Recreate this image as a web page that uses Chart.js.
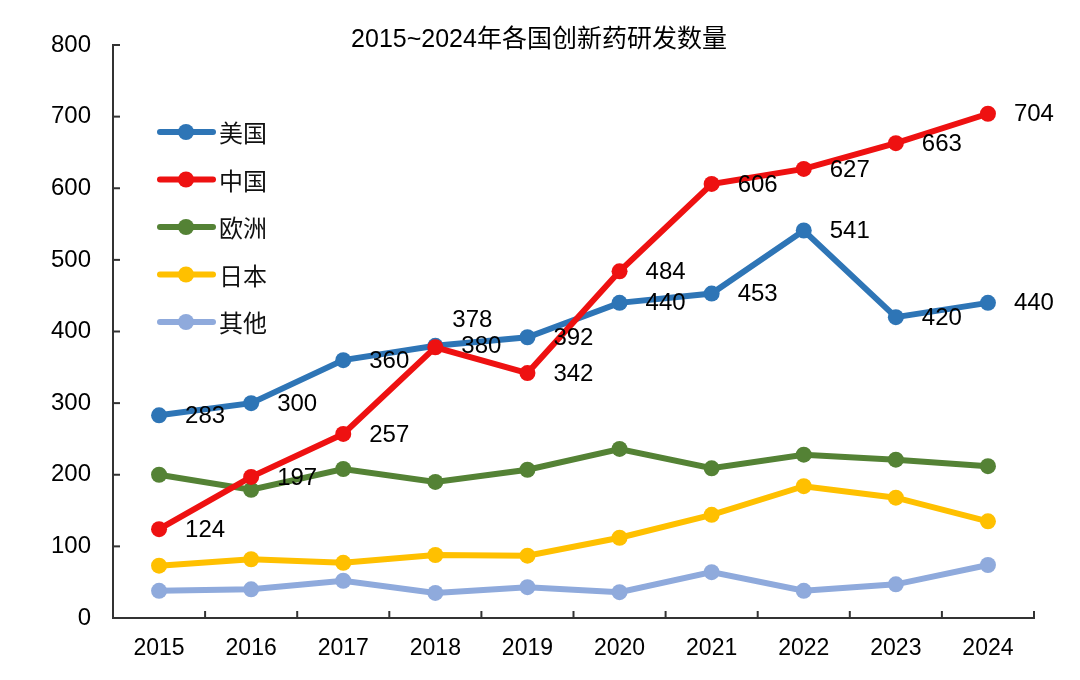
<!DOCTYPE html>
<html><head><meta charset="utf-8">
<script src="https://cdn.jsdelivr.net/npm/chart.js@4.4.1/dist/chart.umd.min.js"></script>
<style>html,body{margin:0;padding:0;background:#fff;}#wrap{width:1080px;height:680px;position:relative;}</style>
</head><body><div id="wrap"><canvas id="c"></canvas></div>
<script>
const titleText = '2015~2024年各国创新药研发数量';
const years = ['2015','2016','2017','2018','2019','2020','2021','2022','2023','2024'];
const seriesNames = ['美国','中国','欧洲','日本','其他'];
const usa = [283,300,360,380,392,440,453,541,420,440];
const china = [124,197,257,378,342,484,606,627,663,704];
const europe = [200,179,208,190,207,236,209,228,221,212];
const japan = [73,82,77,88,87,112,144,184,168,135];
const others = [38,40,52,35,43,36,64,38,47,74];
const colors = ['#2E75B6','#EE1111','#548235','#FFC000','#8FAADC'];
const labelled = [0,1];

const FONT = "Arial, 'Liberation Sans', 'Noto Sans CJK SC', sans-serif";

const custom = {
  id:'custom',
  afterDraw(chart){
    const ctx = chart.ctx;
    const x = chart.scales.x, y = chart.scales.y;
    ctx.save();
    // inward ticks
    ctx.strokeStyle = '#333'; ctx.lineWidth = 2;
    y.ticks.forEach((t,i)=>{
      const py = y.getPixelForTick(i);
      ctx.beginPath(); ctx.moveTo(x.left, py); ctx.lineTo(x.left+7, py); ctx.stroke();
    });
    for(let i=0;i<=years.length;i++){
      const px = x.left + (x.right-x.left)*i/years.length;
      ctx.beginPath(); ctx.moveTo(px, y.bottom); ctx.lineTo(px, y.bottom-7); ctx.stroke();
    }
    // title
    ctx.fillStyle = '#000';
    ctx.font = "25px " + FONT;
    ctx.textAlign = 'center'; ctx.textBaseline = 'middle';
    ctx.fillText(titleText, 539, 40);
    // data labels
    ctx.font = "24px " + FONT;
    labelled.forEach(di=>{
      const meta = chart.getDatasetMeta(di);
      meta.data.forEach((pt,i)=>{
        let dx = 46, dy = 1;
        if(di===1 && i===3){ dx = 37; dy = -27; }
        ctx.fillText(String(chart.data.datasets[di].data[i]), pt.x+dx, pt.y+dy);
      });
    });
    // legend
    ctx.textAlign = 'left';
    chart.data.datasets.forEach((ds,i)=>{
      const ly = 132 + i*47.5;
      ctx.strokeStyle = ds.borderColor; ctx.lineWidth = 6; ctx.lineCap='round';
      ctx.beginPath(); ctx.moveTo(160, ly); ctx.lineTo(213, ly); ctx.stroke();
      ctx.fillStyle = ds.borderColor;
      ctx.beginPath(); ctx.arc(186, ly, 8, 0, Math.PI*2); ctx.fill();
      ctx.fillStyle = '#111';
      ctx.font = "24px 'Noto Sans CJK SC', sans-serif";
      ctx.fillText(ds.label, 219, ly+1);
    });
    ctx.restore();
  }
};

const allData = [usa, china, europe, japan, others];
new Chart(document.getElementById('c'), {
  type:'line',
  data:{
    labels: years,
    datasets: allData.map((d,i)=>({
      label: seriesNames[i], data: d,
      borderColor: colors[i], backgroundColor: colors[i],
      borderWidth: 6, pointRadius: 8, pointHoverRadius: 8,
      pointBackgroundColor: colors[i], pointBorderWidth: 0,
      tension: 0, order: i===1 ? 0 : (i===0 ? 1 : 2)
    }))
  },
  options:{
    responsive:true, maintainAspectRatio:false, animation:false,
    layout:{padding:{top:45, right:46, left:0, bottom:0}},
    plugins:{legend:{display:false}, title:{display:false}, tooltip:{enabled:false}},
    scales:{
      x:{
        offset:true,
        grid:{display:false, drawTicks:false},
        border:{display:true, color:'#333', width:2},
        ticks:{color:'#000', font:{size:23, family:FONT}, padding:17, maxRotation:0},
        afterFit(s){ s.height = 62; }
      },
      y:{
        min:0, max:800,
        grid:{display:false, drawTicks:false},
        border:{display:true, color:'#333', width:2},
        ticks:{stepSize:100, color:'#000', font:{size:24, family:FONT}, padding:22},
        afterFit(s){ s.width = 113; }
      }
    }
  },
  plugins:[custom]
});
</script></body></html>
